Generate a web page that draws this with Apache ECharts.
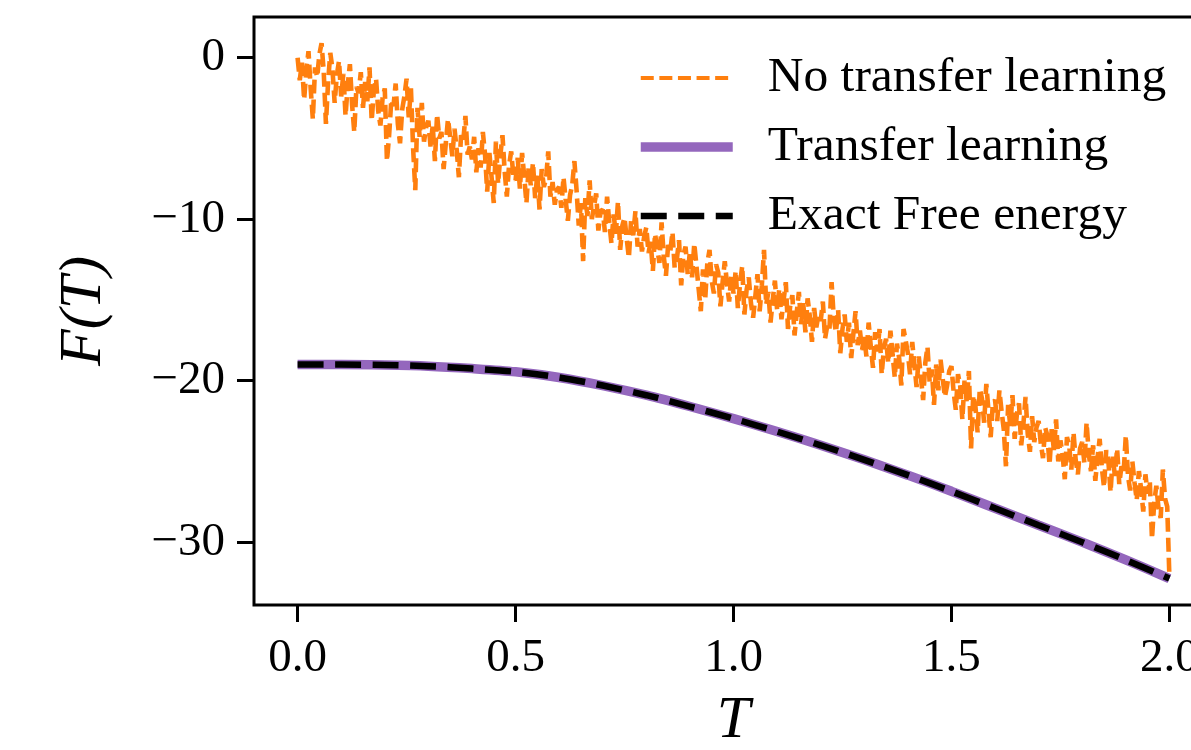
<!DOCTYPE html>
<html>
<head>
<meta charset="utf-8">
<script src="https://cdn.jsdelivr.net/npm/echarts@6/dist/echarts.min.js"></script>
<style>
  html, body { margin: 0; padding: 0; background: #fff; }
  #chart { width: 1191px; height: 750px; }
</style>
</head>
<body>
<div id="chart"></div>
<script>
// Free energy F(T) of the model versus temperature T.

// Temperature grid of the sampled (no transfer learning) run.
const T_START = 0;
const T_STEP = 0.005;

// F(T) estimated without transfer learning (noisy), one value per grid temperature.
const noTransferF = [
  0.0, -1.4, -0.3, -2.6, -0.8, 0.4, -1.9, -3.8, -0.6, -1.2, 0.2, 0.9, -0.9, -4.1, -1.5, 0.3, -0.7, -2.8, -1.1, -0.2,
  -2.4, -1.0, -3.6, -1.7, -0.4, -2.9, -4.6, -1.8, -2.2, -0.9, -3.1, -1.5, -2.7, -0.6, -3.9, -2.0, -1.3, -3.3, -4.2, -2.5,
  -1.9, -6.4, -4.8, -2.6, -3.0, -1.6, -4.1, -5.3, -3.2, -2.4, -1.3, -3.7, -1.9, -5.6, -8.2, -3.1, -4.9, -2.8, -5.2, -4.3,
  -3.9, -5.5, -4.2, -6.4, -3.5, -5.0, -4.6, -6.9, -5.3, -3.8, -4.9, -6.1, -4.4, -5.7, -7.4, -4.8, -5.2, -3.6, -6.0, -5.5,
  -6.3, -4.9, -7.1, -5.6, -6.8, -4.6, -6.0, -8.3, -5.9, -7.4, -9.0, -5.2, -7.8, -6.1, -4.8, -7.0, -8.6, -6.7, -5.8, -7.3,
  -7.6, -6.2, -8.1, -5.9, -7.4, -9.0, -6.8, -7.9, -6.5, -8.7, -7.2, -9.4, -6.9, -8.0, -7.5, -5.8, -8.6, -7.7, -9.1, -8.2,
  -8.0, -9.3, -7.4, -8.8, -10.1, -8.5, -7.9, -6.4, -8.2, -10.4, -9.0, -12.6, -8.7, -9.8, -7.6, -10.0, -9.2, -8.4, -10.7, -9.5,
  -9.4, -10.8, -8.6, -10.2, -11.5, -9.7, -10.9, -8.9, -11.9, -10.4, -9.9, -11.2, -12.4, -10.1, -11.0, -9.5, -11.7, -10.6, -12.0, -11.1,
  -10.5, -12.1, -11.4, -13.2, -10.9, -11.8, -12.7, -10.2, -12.3, -13.5, -11.6, -12.0, -10.8, -13.0, -12.5, -11.3, -14.1, -12.2, -11.7, -13.4,
  -12.0, -13.6, -11.5, -12.9, -14.3, -15.7, -13.1, -15.0, -12.7, -11.9, -13.8, -14.6, -12.8, -13.3, -15.4, -13.9, -12.6, -14.0, -15.1, -13.5,
  -14.6, -13.2, -15.5, -14.0, -12.9, -15.9, -14.4, -13.6, -15.2, -16.1, -14.8, -13.4, -15.7, -14.1, -11.9, -15.3, -14.5, -16.4, -15.0, -13.8,
  -15.6, -14.3, -16.2, -15.0, -13.9, -16.8, -15.4, -14.7, -17.2, -15.8, -14.5, -16.5, -15.2, -17.0, -14.9, -16.0, -17.6, -15.5, -16.7, -15.9,
  -16.3, -15.1, -17.4, -16.6, -16.9, -13.9, -16.1, -17.0, -15.6, -18.3, -16.8, -15.9, -17.6, -16.4, -18.6, -17.1, -15.7, -17.8, -16.9, -18.1,
  -17.3, -18.5, -16.4, -17.9, -19.2, -17.0, -18.2, -16.8, -19.6, -18.0, -17.4, -18.9, -16.9, -18.4, -19.8, -17.7, -18.6, -20.3, -16.8, -17.5,
  -18.3, -19.6, -17.6, -19.0, -20.4, -18.5, -19.8, -21.2, -18.9, -17.9, -20.1, -19.3, -21.5, -19.0, -20.6, -18.7, -19.9, -21.0, -20.3, -19.4,
  -19.1, -20.7, -21.8, -19.6, -20.3, -22.4, -20.0, -21.3, -19.4, -24.2, -20.9, -21.6, -23.2, -20.5, -21.1, -22.6, -20.2, -21.9, -23.5, -21.4,
  -21.2, -22.5, -20.6, -21.9, -23.0, -25.3, -21.5, -22.8, -20.9, -23.6, -22.1, -21.4, -24.0, -22.7, -21.0, -23.3, -24.4, -22.2, -23.8, -22.9,
  -22.5, -23.9, -24.8, -22.9, -23.4, -25.2, -23.0, -24.3, -22.4, -25.0, -23.7, -24.6, -26.1, -23.5, -24.0, -25.5, -23.2, -24.9, -25.8, -24.2,
  -23.8, -25.1, -22.6, -24.5, -25.6, -24.0, -26.2, -24.8, -23.6, -25.4, -26.6, -24.3, -25.0, -26.9, -24.7, -25.9, -24.2, -26.4, -25.3, -25.7,
  -23.4, -25.9, -26.8, -25.0, -26.3, -27.4, -25.6, -26.7, -28.1, -25.8, -27.0, -26.2, -29.8, -27.6, -26.5, -27.9, -28.5, -25.5, -27.3, -27.8,
  -32.2
];

// Temperatures of the smooth curves.
const curveT = [0.0, 0.1, 0.2, 0.3, 0.4, 0.5, 0.6, 0.7, 0.8, 0.9, 1.0,
                1.1, 1.2, 1.3, 1.4, 1.5, 1.6, 1.7, 1.8, 1.9, 2.0];

// F(T) with transfer learning.
const transferF = [-19.00, -19.00, -19.03, -19.10, -19.25, -19.45, -19.80, -20.30, -20.90, -21.60, -22.35,
                   -23.15, -24.00, -24.90, -25.85, -26.85, -27.90, -28.95, -30.00, -31.10, -32.25];

// Exact free energy.
const exactF = [-19.00, -19.00, -19.03, -19.10, -19.25, -19.45, -19.80, -20.30, -20.90, -21.60, -22.35,
                -23.15, -24.00, -24.90, -25.85, -26.85, -27.90, -28.95, -30.00, -31.10, -32.25];

const xTicks = [0, 0.5, 1.0, 1.5, 2.0];
const yTicks = [0, -10, -20, -30];

const seriesNames = ['No transfer learning', 'Transfer learning', 'Exact Free energy'];

const SERIF = "'Liberation Serif', 'DejaVu Serif', serif";

const ORANGE = '#ff7f0e';
const PURPLE = '#9467bd';
const BLACK = '#000';

const orangeLine = { color: ORANGE, width: 4.6, type: [14, 6], cap: 'butt' };
const orangeLegendLine = { color: ORANGE, width: 3.8, type: [13, 5.6], cap: 'butt' };
const purpleLine = { color: PURPLE, width: 9.5, type: 'solid', cap: 'butt' };
const blackLine = { color: BLACK, width: 6.5, type: [26, 11.5], cap: 'butt' };

const chart = echarts.init(document.getElementById('chart'), null, { renderer: 'canvas' });

const option = {
  animation: false,
  backgroundColor: '#fff',
  grid: {
    left: 254,
    top: 17,
    width: 959,
    height: 588,
    outerBoundsMode: 'none',
    containLabel: false,
    show: true,
    borderColor: '#000',
    borderWidth: 3,
    backgroundColor: 'transparent'
  },
  legend: {
    orient: 'vertical',
    left: 636,
    top: 53,
    padding: 0,
    itemWidth: 92,
    itemHeight: 20,
    itemGap: 19,
    selectedMode: false,
    itemStyle: { opacity: 0 },
    data: [
      { name: seriesNames[0], lineStyle: orangeLegendLine },
      { name: seriesNames[1], lineStyle: purpleLine },
      { name: seriesNames[2], lineStyle: blackLine }
    ],
    textStyle: {
      fontFamily: SERIF,
      fontSize: 49.5,
      lineHeight: 46,
      color: '#000',
      padding: [0, 0, 0, 30]
    }
  },
  xAxis: {
    type: 'value',
    min: -0.1,
    max: 2.1,
    name: 'T',
    nameLocation: 'middle',
    nameGap: 86,
    nameTextStyle: { fontFamily: SERIF, fontStyle: 'italic', fontSize: 60, color: '#000' },
    axisLine: { show: false, onZero: false },
    splitLine: { show: false },
    axisTick: {
      show: true, inside: false, length: 17,
      customValues: xTicks,
      lineStyle: { color: '#000', width: 3 }
    },
    axisLabel: {
      customValues: xTicks,
      margin: 30,
      fontFamily: SERIF,
      fontSize: 47,
      color: '#000',
      formatter: v => Number(v).toFixed(1)
    }
  },
  yAxis: {
    type: 'value',
    min: -33.89,
    max: 2.52,
    name: 'F(T)',
    nameLocation: 'middle',
    nameGap: 140,
    nameRotate: 90,
    nameTextStyle: { fontFamily: SERIF, fontStyle: 'italic', fontSize: 60, color: '#000' },
    axisLine: { show: false, onZero: false },
    splitLine: { show: false },
    axisTick: {
      show: true, inside: false, length: 17,
      customValues: yTicks,
      lineStyle: { color: '#000', width: 3 }
    },
    axisLabel: {
      customValues: yTicks,
      margin: 29,
      fontFamily: SERIF,
      fontSize: 47,
      color: '#000',
      formatter: v => (v < 0 ? '\u2212' + Math.abs(v) : String(v))
    }
  },
  series: [
    {
      name: seriesNames[0],
      type: 'line',
      symbol: 'none',
      color: ORANGE,
      lineStyle: orangeLine,
      data: noTransferF.map((f, i) => [T_START + i * T_STEP, f]),
      z: 2
    },
    {
      name: seriesNames[1],
      type: 'line',
      symbol: 'none',
      smooth: 0.3,
      color: PURPLE,
      lineStyle: purpleLine,
      data: curveT.map((t, i) => [t, transferF[i]]),
      z: 3
    },
    {
      name: seriesNames[2],
      type: 'line',
      symbol: 'none',
      smooth: 0.3,
      color: BLACK,
      lineStyle: blackLine,
      data: curveT.map((t, i) => [t, exactF[i]]),
      z: 4
    }
  ]
};

chart.setOption(option);
</script>
</body>
</html>
